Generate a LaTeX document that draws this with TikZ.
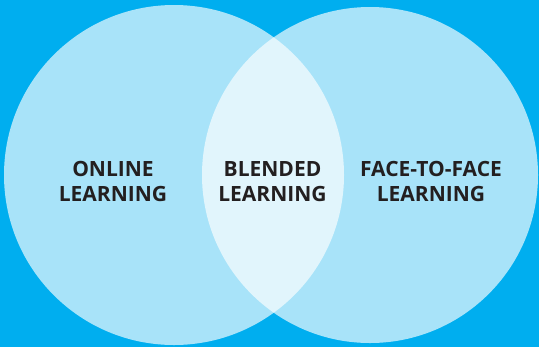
\documentclass[tikz,border=0pt]{standalone}
\usepackage{fontspec}
\setmainfont{Open Sans}[BoldFont={* Bold}]
\definecolor{bgblue}{RGB}{0,174,239}
\definecolor{labeltext}{RGB}{35,31,32}
\begin{document}
\begin{tikzpicture}[x=1bp,y=-1bp,
  venn/.style={fill=white,fill opacity=0.66,draw=none},
  label/.style={inner sep=0pt,anchor=north,align=center,text=labeltext,
    font=\fontsize{21bp}{25bp}\selectfont\bfseries}]
\useasboundingbox (0,0) rectangle (539,347);
\fill[bgblue] (0,0) rectangle (539,347);
\begin{scope}
\clip (0,0) rectangle (539,347);
\fill[venn] (174,175) circle[radius=170];
\fill[venn] (370,175) circle[radius=168];
\end{scope}
\node[label] (online) at (113,161) {ONLINE\\LEARNING};
\node[label] (blended) at (272.5,161) {BLENDED\\LEARNING};
\node[label] (f2f) at (431,161) {FACE-TO-FACE\\LEARNING};
\end{tikzpicture}
\end{document}
